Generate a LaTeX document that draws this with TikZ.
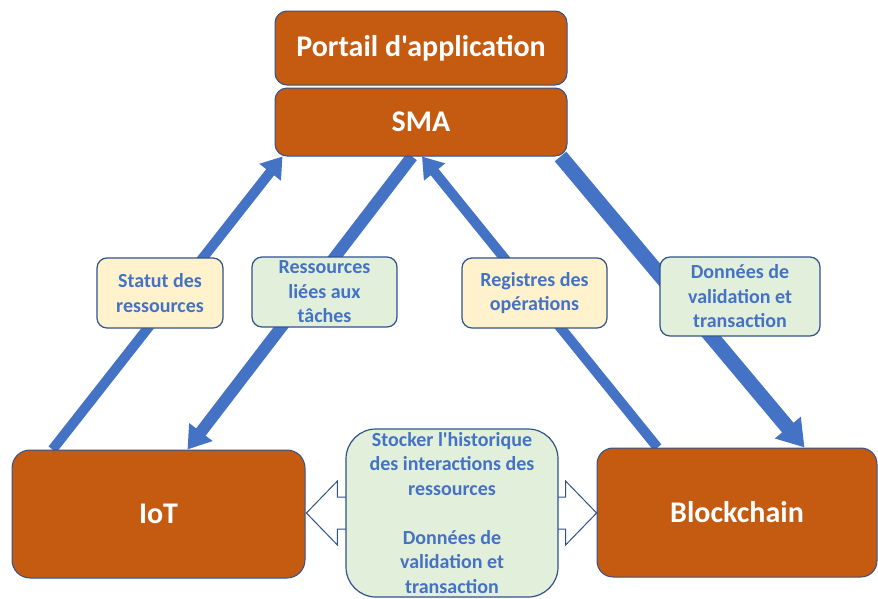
\documentclass[tikz,border=0pt]{standalone}
\usepackage{fontspec}
\setmainfont{Carlito}[Ligatures=TeXOff]
\usetikzlibrary{arrows.meta,calc,backgrounds,positioning}
\definecolor{rouille}{HTML}{C55A11}
\definecolor{bleu}{HTML}{4472C4}
\definecolor{bleufonce}{HTML}{2F528F}
\definecolor{jaune}{HTML}{FFF2CC}
\definecolor{vert}{HTML}{E2EFDA}

\begin{document}
\begin{tikzpicture}[x=1pt,y=-1pt]
	\tikzstyle{bloc} = [rectangle, rounded corners=12pt, draw=bleufonce, line width=1pt, fill=rouille, text=white, font=\fontsize{30}{36}\selectfont\bfseries]
	\tikzstyle{etiq} = [rectangle, rounded corners=10pt, draw=bleufonce, line width=1.2pt, text=bleu, align=center, inner sep=0pt, font=\fontsize{20}{24.5}\selectfont\bfseries]
	\tikzstyle{fleche} = [bleu, line width=10pt, -{Triangle[length=20pt,width=26pt]}]
	\tikzstyle{callout} = [draw=bleufonce, line width=1pt, fill=white, line join=miter]
	\useasboundingbox (0,0) rectangle (878,598);
	\node(portail)[bloc, minimum width=292pt, minimum height=74pt] at (421,48) {Portail d'application};
	\node(sma)[bloc, minimum width=292pt, minimum height=68pt, below=2pt of portail] {SMA};
	\node(iot)[bloc, rounded corners=18pt, minimum width=293pt, minimum height=128pt] at (158.5,514) {IoT};
	\node(blockchain)[bloc, rounded corners=16pt, minimum width=280pt, minimum height=129pt] at (737,512.5) {Blockchain};
	\node(statut)[etiq, fill=jaune, minimum width=126pt, minimum height=70pt] at (160,293) {Statut des\\ressources};
	\node(taches)[etiq, fill=vert, minimum width=145pt, minimum height=70pt] at (324.5,292) {Ressources\\liées aux\\tâches};
	\node(registres)[etiq, fill=jaune, minimum width=145pt, minimum height=70pt] at (534.5,293) {Registres des\\opérations};
	\node(donnees)[etiq, fill=vert, minimum width=160pt, minimum height=79pt] at (740,296.5) {Données de\\validation et\\transaction};
	\node(stocker)[etiq, fill=vert, rounded corners=30pt, minimum width=212pt, minimum height=168pt] at (452,513) {Stocker l'historique\\des interactions des\\ressources\\[24.5pt]Données de\\validation et\\transaction};
	\begin{scope}[on background layer]
	\draw[fleche](iot.north west) ++(41,0) -- ([xshift=8pt]sma.south west);
	\draw[fleche, line width=12pt, -{Triangle[length=22pt,width=28pt]}]([xshift=-9pt]sma.south) -- ([xshift=176pt]iot.north west);
	\draw[fleche]([xshift=61pt]blockchain.north west) -- ([xshift=1pt]sma.south);
	\draw[fleche, line width=15pt, -{Triangle[length=26pt,width=32pt]}]([xshift=-7pt]sma.south east) -- ([xshift=208pt]blockchain.north west);
	% fleches de l'encadre du bas
	\draw[callout]($(stocker.west)+(2,-16)$) -- ++(-10,0) -- ++(0,-16) -- ($(stocker.west)+(-39,0)$) -- ($(stocker.west)+(-8,32)$) -- ++(0,-16) -- ++(10,0);
	\draw[callout]($(stocker.east)+(-2,-16)$) -- ++(9,0) -- ++(0,-16) -- ($(stocker.east)+(38,0)$) -- ($(stocker.east)+(7,32)$) -- ++(0,-16) -- ++(-9,0);
	\end{scope}
\end{tikzpicture}
\end{document}
